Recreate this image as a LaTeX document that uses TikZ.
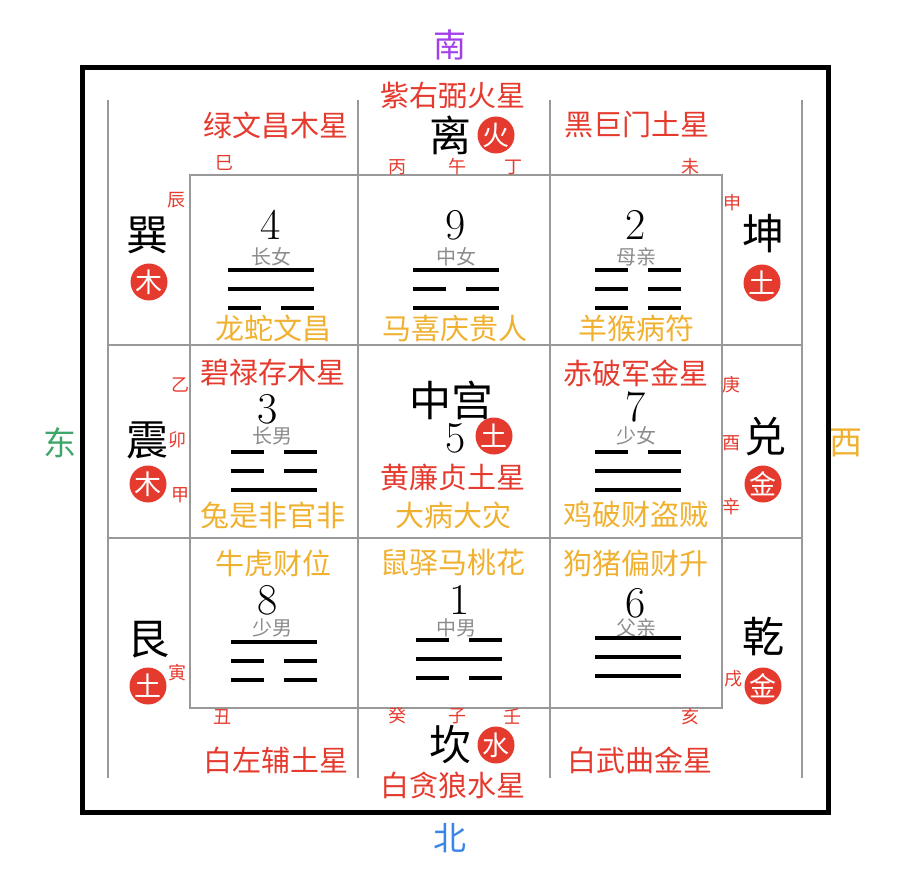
\documentclass[tikz,border=0pt]{standalone}
\usepackage{fontspec}
\newfontfamily\cjk{Noto Sans CJK SC}
\usetikzlibrary{positioning}
\definecolor{starred}{HTML}{E53A2E}
\definecolor{luckgold}{HTML}{F0B030}
\definecolor{dirpurple}{HTML}{A23FEA}
\definecolor{dirblue}{HTML}{3A86E8}
\definecolor{dirgreen}{HTML}{3FA66A}
\definecolor{kingray}{HTML}{8C8C8C}

% one trigram: centre x, top y, three codes (1 solid, 0 broken)
\newcommand{\yaolines}[5]{%
  \foreach \c [count=\i from 0] in {#3,#4,#5}{%
    \pgfmathsetmacro{\yy}{#2+19*\i}
    \ifnum\c=1
      \draw[yao] (#1-43,\yy) -- (#1+43,\yy);
    \else
      \draw[yao] (#1-43,\yy) -- (#1-10,\yy);
      \draw[yao] (#1+10,\yy) -- (#1+43,\yy);
    \fi}}

\begin{document}
\begin{tikzpicture}[x=1pt,y=-1pt,
  star/.style={text=starred, font=\cjk\fontsize{29}{29}\selectfont, inner sep=0pt},
  luck/.style={text=luckgold, font=\cjk\fontsize{29}{29}\selectfont, inner sep=0pt},
  gua/.style={font=\cjk\fontsize{42}{42}\selectfont, inner sep=0pt},
  num/.style={font=\fontsize{44}{44}\selectfont, inner sep=0pt},
  kin/.style={text=kingray, font=\cjk\fontsize{20}{20}\selectfont, inner sep=0pt},
  zhi/.style={text=starred, font=\cjk\fontsize{18}{18}\selectfont, inner sep=0pt},
  wuxing/.style={circle, fill=starred, text=white, minimum size=37pt, inner sep=0pt, font=\cjk\fontsize{27}{27}\selectfont},
  dir/.style={font=\cjk\fontsize{33}{33}\selectfont, inner sep=0pt},
  grid/.style={draw=gray!80, line width=1.3pt},
  yao/.style={line width=4pt},
]
\useasboundingbox (0,0) rectangle (906,880);

%Frame and grid
\draw[line width=5pt] (82,68) rectangle (828,812);
\foreach \gx in {108,358,550,802}
  \draw[grid] (\gx,100) -- (\gx,778);
\foreach \gy in {345,538}
  \draw[grid] (108,\gy) -- (802,\gy);
\draw[grid] (190,175) rectangle (722,708);

%Directions
\node[dir, text=dirpurple] (south) at (450,45) {南};
\node[dir, text=dirblue] (north) at (450,838) {北};
\node[dir, text=dirgreen] (east) at (60,443) {东};
\node[dir, text=luckgold] (west) at (846,443) {西};

%Outer palaces
\node[star] (ziyou) at (453,95) {紫右弼火星};
\node[gua] (li) at (450,135) {离};
\node[wuxing] (lihuo) at (496,135) {火};
\node[zhi] (bing) at (397,167) {丙};
\node[zhi] (wu) at (457,167) {午};
\node[zhi] (ding) at (513,167) {丁};
\node[star] (lvwen) at (276,125) {绿文昌木星};
\node[zhi] (si) at (224,163) {巳};
\node[star] (heiju) at (637,125) {黑巨门土星};
\node[zhi] (wei) at (690,167) {未};

\node[gua] (xun) at (147,235) {巽};
\node[wuxing] (xunmu) at (149,282) {木};
\node[zhi] (chen) at (176,200) {辰};
\node[gua] (zhen) at (147,440) {震};
\node[wuxing] (zhenmu) at (148,484) {木};
\node[zhi] (yi) at (180,385) {乙};
\node[zhi] (mao) at (177,440) {卯};
\node[zhi] (jia) at (180,495) {甲};
\node[gua] (gen) at (148,640) {艮};
\node[wuxing] (gentu) at (148,686) {土};
\node[zhi] (yin) at (177,673) {寅};
\node[zhi] (chou) at (222,717) {丑};

\node[zhi] (shen) at (732,203) {申};
\node[gua] (kun) at (763,234) {坤};
\node[wuxing] (kuntu) at (762,283) {土};
\node[zhi] (geng) at (731,385) {庚};
\node[zhi] (you) at (731,443) {酉};
\node[zhi] (xin) at (731,507) {辛};
\node[gua] (dui) at (765,437) {兑};
\node[wuxing] (duijin) at (763,484) {金};
\node[gua] (qian) at (763,637) {乾};
\node[zhi] (xu) at (733,679) {戌};
\node[wuxing] (qianjin) at (763,686) {金};
\node[zhi] (hai) at (690,717) {亥};

\node[zhi] (gui) at (397,716) {癸};
\node[zhi] (zi) at (457,716) {子};
\node[zhi] (ren) at (512,716) {壬};
\node[gua] (kan) at (450,745) {坎};
\node[wuxing] (kanshui) at (496,745) {水};
\node[star] (baitan) at (453,785) {白贪狼水星};
\node[star] (baizuo) at (276,760) {白左辅土星};
\node[star] (baiwu) at (640,760) {白武曲金星};

%Top row
\node[num] (n4) at (271,225) {4};
\node[kin] (k4) at (271,257) {长女};
\yaolines{271}{270}{1}{1}{0}
\node[luck] (l4) at (273,328) {龙蛇文昌};
\node[num] (n9) at (456,225) {9};
\node[kin] (k9) at (456,257) {中女};
\yaolines{456}{270}{1}{0}{1}
\node[luck] (l9) at (455,328) {马喜庆贵人};
\node[num] (n2) at (636,225) {2};
\node[kin] (k2) at (636,257) {母亲};
\yaolines{638}{270}{0}{0}{0}
\node[luck] (l2) at (636,328) {羊猴病符};

%Middle row
\node[star] (bilu) at (273,373) {碧禄存木星};
\node[num] (n3) at (268,409) {3};
\node[kin] (k3) at (272,436) {长男};
\yaolines{274}{452}{0}{0}{1}
\node[luck] (l3) at (273,515) {兔是非官非};
\node[gua] (zhonggong) at (451,400) {中宫};
\node[num] (n5) at (456,438) {5};
\node[wuxing] (zhongtu) at (494,436) {土};
\node[star] (huanglian) at (453,477) {黄廉贞土星};
\node[luck] (l5) at (453,515) {大病大灾};
\node[star] (chipo) at (636,373) {赤破军金星};
\node[num] (n7) at (636,407) {7};
\node[kin] (k7) at (636,436) {少女};
\yaolines{638}{452}{0}{1}{1}
\node[luck] (l7) at (636,515) {鸡破财盗贼};

%Bottom row
\node[luck] (l8) at (273,563) {牛虎财位};
\node[num] (n8) at (268,600) {8};
\node[kin] (k8) at (272,628) {少男};
\yaolines{274}{642}{1}{0}{0}
\node[luck] (l1) at (453,563) {鼠驿马桃花};
\node[num] (n1) at (460,600) {1};
\node[kin] (k1) at (456,628) {中男};
\yaolines{459}{640}{0}{1}{0}
\node[luck] (l6) at (636,563) {狗猪偏财升};
\node[num] (n6) at (636,603) {6};
\node[kin] (k6) at (636,628) {父亲};
\yaolines{638}{638}{1}{1}{1}
\end{tikzpicture}
\end{document}
